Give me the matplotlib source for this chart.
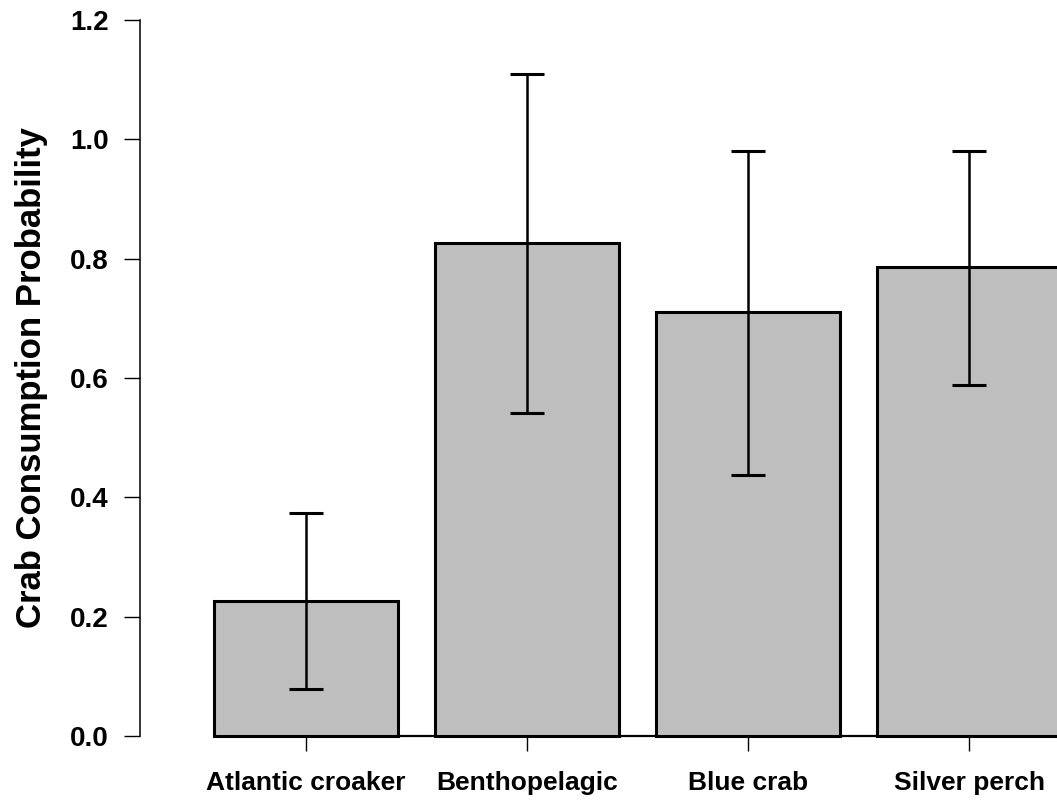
import numpy as np
import matplotlib
matplotlib.use("Agg")
import matplotlib.pyplot as plt

plt.rcParams['font.family'] = ['Liberation Sans', 'DejaVu Sans']
plt.rcParams['font.weight'] = 'bold'

# values
species = ["Atlantic croaker", "Benthopelagic", "Blue crab", "Silver perch"]
prob = [0.226, 0.826, 0.710, 0.786]
lower = [0.079, 0.541, 0.437, 0.588]
upper = [0.373, 1.110, 0.981, 0.981]
yticks = [0.0, 0.2, 0.4, 0.6, 0.8, 1.0, 1.2]

fig = plt.figure(figsize=(10.57, 8.01), dpi=100)
# right edge of last bar is cut by the figure edge, like the original
ax = fig.add_axes([140/1057, 65/801, 917/1057, 716/801])

x = np.arange(len(species))
w = 0.835
ax.bar(x, prob, width=w, color="#bebebe", edgecolor="black", linewidth=2.2, clip_on=False, zorder=2)
ax.hlines(0, x[0] - w/2, x[-1] + 1, color="black", linewidth=1.6, clip_on=False, zorder=1)

err = [np.array(prob) - np.array(lower), np.array(upper) - np.array(prob)]
ax.errorbar(x, prob, yerr=err, fmt="none", ecolor="black", elinewidth=1.8,
            capsize=12, capthick=2.2, zorder=3)

ax.set_xlim(-0.751, 3.398)
ax.set_ylim(0, 1.2)
ax.set_yticks(yticks)
ax.set_yticklabels(["%.1f" % t for t in yticks], fontsize=20, fontweight="bold")
ax.set_xticks(x)
ax.set_xticklabels(species, fontsize=19, fontweight="bold")
ax.tick_params(axis="y", length=11.5, width=1, pad=11)
ax.tick_params(axis="x", length=11, width=1, pad=14)

for s in ["top", "right", "bottom"]:
    ax.spines[s].set_visible(False)
ax.spines["left"].set_linewidth(1.1)

ax.set_ylabel("Crab Consumption Probability", fontsize=25, fontweight="bold")
ax.yaxis.set_label_coords(-0.100, 0.5)

fig.savefig("out.png", dpi=100)
